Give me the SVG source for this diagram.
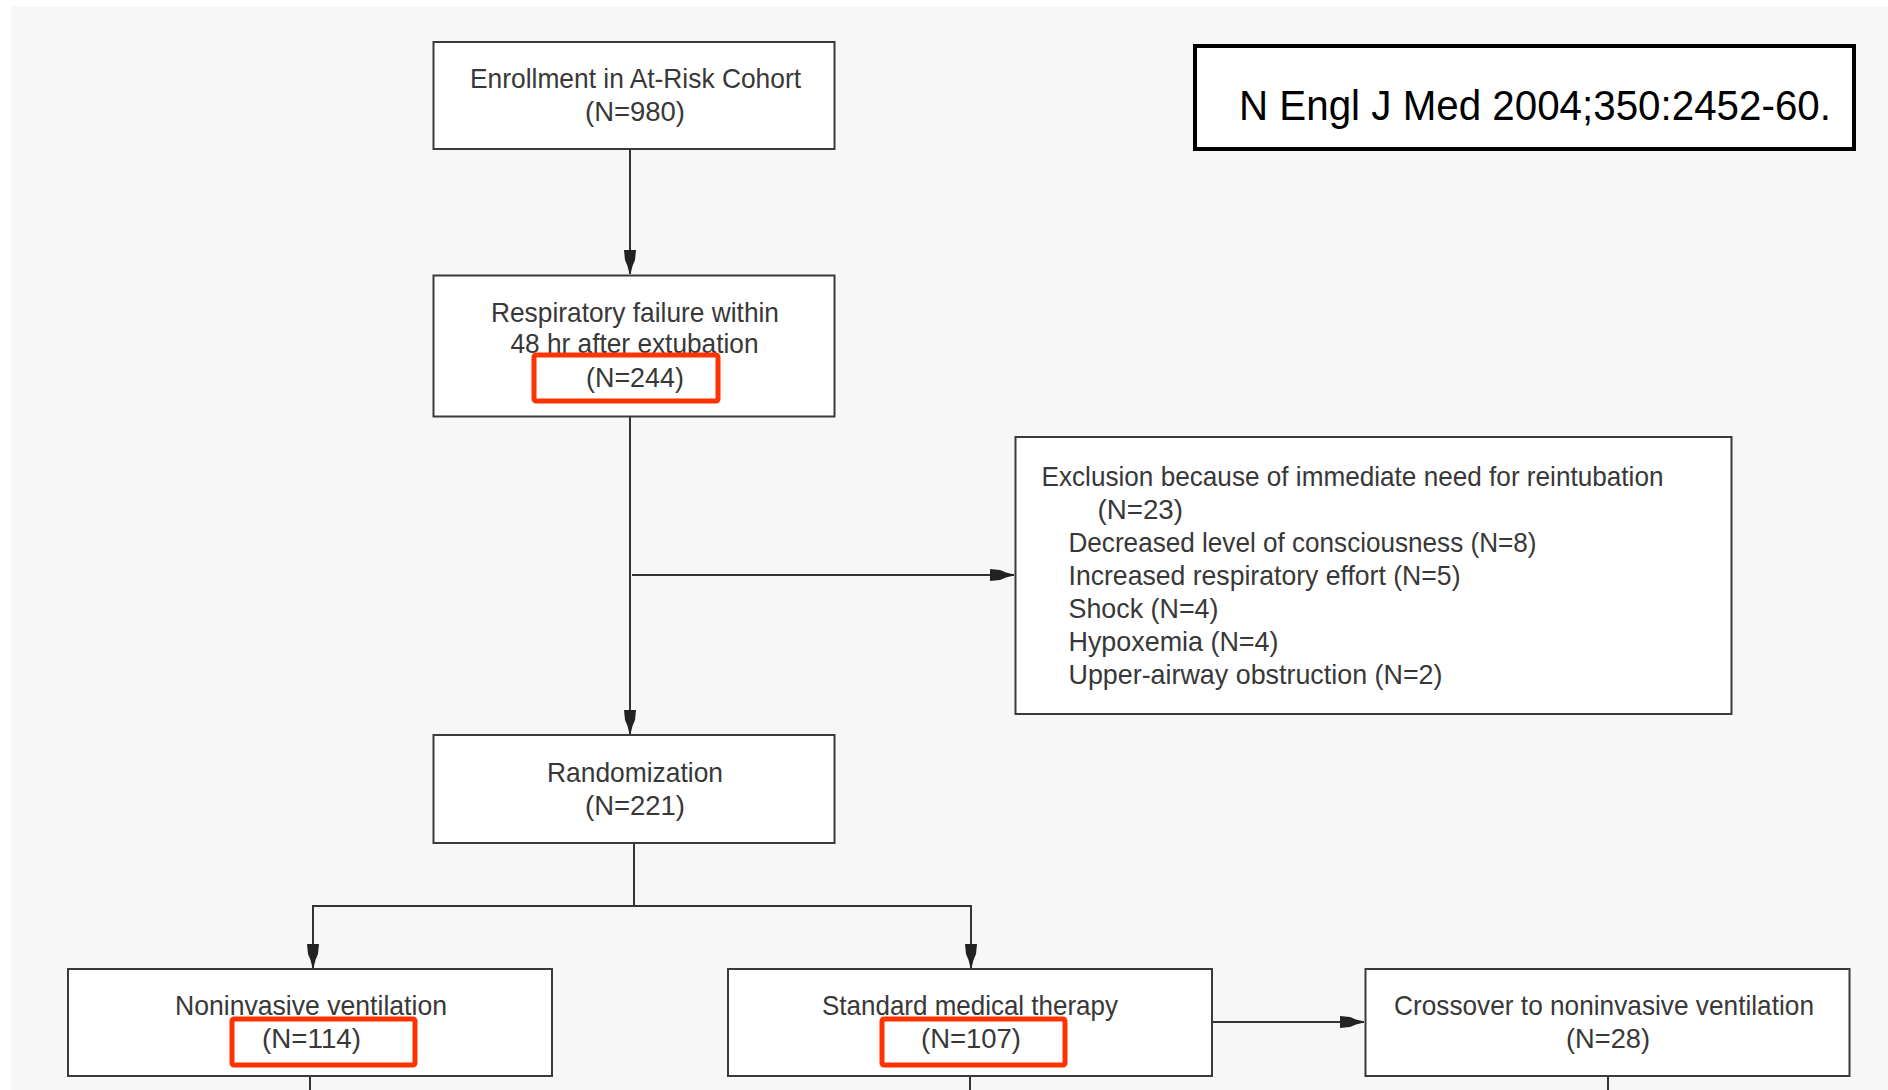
<svg xmlns="http://www.w3.org/2000/svg" width="1888" height="1090" viewBox="0 0 1888 1090">
<defs>
<style>
.bg{fill:#f7f7f7}
.box{fill:#ffffff;stroke:#3a3a3a;stroke-width:2}
.cite{fill:#ffffff;stroke:#000000;stroke-width:4}
.hl{fill:none;stroke:#ff3300;stroke-width:5}
.t{font-family:"Liberation Sans",Arial,sans-serif;font-size:28px;fill:#383838}
.ct{font-family:"Liberation Sans",Arial,sans-serif;font-size:42px;fill:#000000}
.ln{fill:none;stroke:#333333;stroke-width:2}
</style>
<marker id="arr" viewBox="-25 -7 26 14" refX="0" refY="0" markerWidth="26" markerHeight="14" markerUnits="userSpaceOnUse" orient="auto">
<path d="M-24,-6 L-24,6 L-14,5 L-8,2.5 L0,0.5 L0,-0.5 L-8,-2.5 L-14,-5 Z" fill="#222222"/>
</marker>
</defs>
<rect x="0" y="0" width="1888" height="1090" fill="#ffffff"/>
<rect class="bg" x="11" y="6" width="1877" height="1084"/>

<g id="connectors">
<line class="ln" x1="630" y1="149" x2="630" y2="274" marker-end="url(#arr)"/>
<line class="ln" x1="630" y1="417" x2="630" y2="734" marker-end="url(#arr)"/>
<line class="ln" x1="632" y1="575" x2="1014" y2="575" marker-end="url(#arr)"/>
<polyline class="ln" points="634,843 634,906"/>
<polyline class="ln" points="313,906 971,906"/>
<line class="ln" x1="313" y1="905" x2="313" y2="968" marker-end="url(#arr)"/>
<line class="ln" x1="971" y1="905" x2="971" y2="968" marker-end="url(#arr)"/>
<line class="ln" x1="1212" y1="1022" x2="1364" y2="1022" marker-end="url(#arr)"/>
<line class="ln" x1="310" y1="1076" x2="310" y2="1090"/>
<line class="ln" x1="970" y1="1076" x2="970" y2="1090"/>
<line class="ln" x1="1608" y1="1076" x2="1608" y2="1090"/>
</g>

<g id="citation">
<rect class="cite" x="1195" y="46" width="659" height="103"/>
<text class="ct" x="1239" y="120" textLength="592" lengthAdjust="spacingAndGlyphs">N Engl J Med 2004;350:2452-60.</text>
</g>

<g id="enrollment">
<rect class="box" x="433.5" y="42" width="401" height="107"/>
<text class="t" x="470" y="88" textLength="331" lengthAdjust="spacingAndGlyphs">Enrollment in At-Risk Cohort</text>
<text class="t" x="585" y="121" textLength="100" lengthAdjust="spacingAndGlyphs">(N=980)</text>
</g>

<g id="respiratory-failure">
<rect class="box" x="433.5" y="275.5" width="401" height="141"/>
<text class="t" x="491" y="322" textLength="288" lengthAdjust="spacingAndGlyphs">Respiratory failure within</text>
<text class="t" x="510.5" y="353" textLength="248" lengthAdjust="spacingAndGlyphs">48 hr after extubation</text>
<text class="t" x="586" y="387" textLength="98" lengthAdjust="spacingAndGlyphs">(N=244)</text>
<rect class="hl" x="534" y="355" width="184" height="46" rx="2"/>
</g>

<g id="exclusion">
<rect class="box" x="1015.5" y="437" width="716" height="277"/>
<text class="t" x="1041.5" y="486" textLength="622" lengthAdjust="spacingAndGlyphs">Exclusion because of immediate need for reintubation</text>
<text class="t" x="1097.5" y="519" textLength="85.5" lengthAdjust="spacingAndGlyphs">(N=23)</text>
<text class="t" x="1068.5" y="552" textLength="468" lengthAdjust="spacingAndGlyphs">Decreased level of consciousness (N=8)</text>
<text class="t" x="1068.5" y="585" textLength="392" lengthAdjust="spacingAndGlyphs">Increased respiratory effort (N=5)</text>
<text class="t" x="1068.5" y="618" textLength="150" lengthAdjust="spacingAndGlyphs">Shock (N=4)</text>
<text class="t" x="1068.5" y="651" textLength="210" lengthAdjust="spacingAndGlyphs">Hypoxemia (N=4)</text>
<text class="t" x="1068.5" y="684" textLength="374" lengthAdjust="spacingAndGlyphs">Upper-airway obstruction (N=2)</text>
</g>

<g id="randomization">
<rect class="box" x="433.5" y="735" width="401" height="108"/>
<text class="t" x="547" y="782" textLength="176" lengthAdjust="spacingAndGlyphs">Randomization</text>
<text class="t" x="585" y="815" textLength="100" lengthAdjust="spacingAndGlyphs">(N=221)</text>
</g>

<g id="noninvasive">
<rect class="box" x="68" y="969" width="484" height="107"/>
<text class="t" x="175" y="1015" textLength="272" lengthAdjust="spacingAndGlyphs">Noninvasive ventilation</text>
<text class="t" x="262" y="1048" textLength="99" lengthAdjust="spacingAndGlyphs">(N=114)</text>
<rect class="hl" x="232" y="1019" width="183" height="46" rx="2"/>
</g>

<g id="standard">
<rect class="box" x="728" y="969" width="484" height="107"/>
<text class="t" x="822" y="1015" textLength="296" lengthAdjust="spacingAndGlyphs">Standard medical therapy</text>
<text class="t" x="921" y="1048" textLength="100" lengthAdjust="spacingAndGlyphs">(N=107)</text>
<rect class="hl" x="882" y="1019" width="183" height="46" rx="2"/>
</g>

<g id="crossover">
<rect class="box" x="1365.5" y="969" width="484" height="107"/>
<text class="t" x="1394" y="1015" textLength="420" lengthAdjust="spacingAndGlyphs">Crossover to noninvasive ventilation</text>
<text class="t" x="1566" y="1048" textLength="84" lengthAdjust="spacingAndGlyphs">(N=28)</text>
</g>
</svg>
